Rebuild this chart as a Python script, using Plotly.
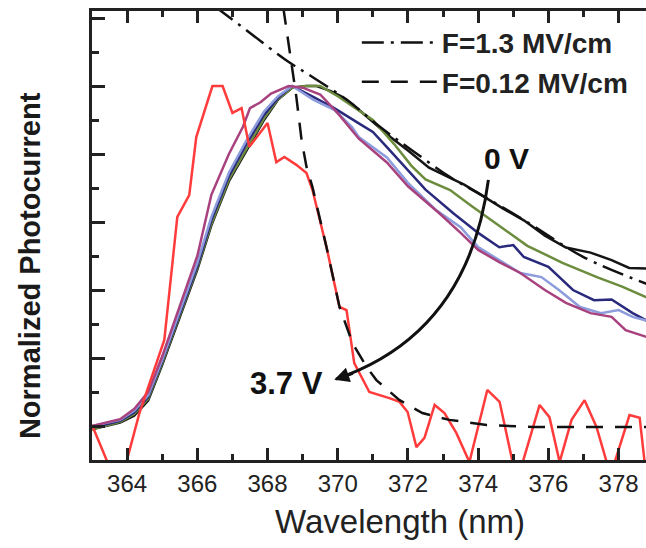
import plotly.graph_objects as go

# ---------------- data ----------------
wl_0v = [363.0, 363.4, 363.8, 364.2, 364.6, 365.0, 365.5, 366.0, 366.4, 366.9, 367.4, 367.9, 368.3, 368.7,
         369.1, 369.4, 369.8, 370.1, 370.6, 371.0, 371.5, 372.0, 372.6, 373.2, 373.6, 374.0, 374.7, 375.3,
         375.9, 376.5, 377.2, 377.8, 378.3, 378.8]
pc_0v = [-0.01, 0.0, 0.01, 0.03, 0.075, 0.18, 0.32, 0.46, 0.59, 0.72, 0.81, 0.9, 0.96, 0.995,
         1.0, 1.0, 0.985, 0.97, 0.93, 0.895, 0.85, 0.81, 0.76, 0.73, 0.71, 0.685, 0.64, 0.605,
         0.56, 0.525, 0.51, 0.488, 0.465, 0.463]

wl_green = [363.0, 363.4, 363.8, 364.2, 364.6, 365.0, 365.5, 366.0, 366.4, 366.9, 367.4, 367.9, 368.3, 368.7,
            369.1, 369.5, 370.0, 370.5, 371.0, 371.6, 372.1, 372.5, 373.2, 373.8, 374.6, 375.4, 376.4,
            377.4, 378.1, 378.8]
pc_green = [-0.01, 0.0, 0.012, 0.035, 0.08, 0.185, 0.325, 0.465, 0.595, 0.725, 0.815, 0.905, 0.962, 0.995,
            1.0, 1.0, 0.97, 0.935, 0.9, 0.83, 0.765, 0.725, 0.694, 0.648, 0.588, 0.53, 0.48,
            0.437, 0.41, 0.378]

wl_navy = [363.0, 363.4, 363.8, 364.2, 364.6, 365.0, 365.5, 366.0, 366.4, 366.9, 367.4, 367.9, 368.3, 368.7,
           369.3, 369.9, 370.6, 371.0, 371.4, 372.0, 372.5, 373.3, 374.0, 374.6, 375.0, 375.3, 376.0,
           376.7, 377.3, 377.8, 378.4, 378.8]
pc_navy = [-0.005, 0.005, 0.015, 0.04, 0.085, 0.19, 0.33, 0.47, 0.605, 0.735, 0.83, 0.915, 0.965, 1.0,
           0.968, 0.935, 0.89, 0.865, 0.82, 0.75, 0.695, 0.625, 0.568, 0.526, 0.532, 0.497, 0.468,
           0.4, 0.37, 0.372, 0.332, 0.31]

wl_lblue = [363.0, 363.4, 363.8, 364.2, 364.6, 365.0, 365.5, 366.0, 366.4, 366.9, 367.4, 367.9, 368.3, 368.7,
            369.3, 369.9, 370.4, 370.6, 371.4, 372.0, 372.8, 373.5, 374.0, 374.6, 375.2, 375.8, 376.3,
            376.9, 377.5, 378.0, 378.4, 378.8]
pc_lblue = [0.0, 0.008, 0.018, 0.045, 0.09, 0.195, 0.34, 0.48, 0.615, 0.745, 0.84, 0.925, 0.97, 1.0,
            0.96, 0.93, 0.88, 0.85, 0.79, 0.715, 0.635, 0.585, 0.526, 0.488, 0.45, 0.438, 0.4,
            0.35, 0.332, 0.341, 0.321, 0.31]

wl_purple = [363.0, 363.4, 363.8, 364.2, 364.6, 365.0, 365.5, 366.0, 366.4, 366.9, 367.3, 367.5, 367.8, 368.1,
             368.6, 369.0, 369.5, 370.0, 370.6, 371.4, 372.0, 372.9, 373.5, 374.0, 374.6, 375.2, 375.9,
             376.5, 377.2, 377.8, 378.2, 378.8]
pc_purple = [0.0, 0.01, 0.02, 0.05, 0.1, 0.205, 0.355, 0.5, 0.68, 0.8, 0.88, 0.935, 0.952, 0.978,
             1.0, 0.995, 0.975, 0.92, 0.845, 0.775, 0.705, 0.625, 0.568, 0.518, 0.482, 0.45, 0.4,
             0.362, 0.332, 0.321, 0.282, 0.262]

wl_37v = [363.0, 363.44, 363.98, 364.35, 365.06, 365.43, 365.77, 365.97, 366.43, 366.72, 367.0, 367.26,
          367.48, 368.0, 368.25, 368.48, 368.82, 369.11, 369.28, 369.68, 370.05, 370.25, 370.47, 370.9,
          371.47, 371.76, 371.99, 372.24, 372.47, 372.76, 373.04, 373.38, 373.75, 374.26, 374.61,
          374.98, 375.27, 375.75, 376.03, 376.32, 376.66, 377.03, 377.37, 377.66, 377.89, 378.31,
          378.6, 378.74]
pc_37v = [0.003, -0.106, -0.106, 0.038, 0.253, 0.615, 0.679, 0.85, 1.0, 1.0, 0.921, 0.935,
          0.821, 0.891, 0.776, 0.791, 0.768, 0.744, 0.694, 0.526, 0.35, 0.341, 0.185, 0.1,
          0.082, 0.071, 0.041, -0.062, -0.035, 0.062, 0.038, -0.021, -0.106, 0.106, 0.071,
          -0.106, -0.106, 0.062, 0.026, -0.106, 0.018, 0.076, -0.003, -0.106, -0.106, 0.032,
          0.024, -0.106]

wl_fit_high = [366.5, 367.5, 368.5, 369.3, 370.25, 371.2, 372.1, 373.2, 374.0, 375.3, 377.0, 378.8]
pc_fit_high = [1.234, 1.156, 1.078, 1.025, 0.96, 0.88, 0.812, 0.732, 0.685, 0.606, 0.497, 0.418]

wl_fit_low = [368.45, 368.57, 368.68, 368.82, 368.97, 369.11, 369.28, 369.68, 370.05, 370.42, 370.82,
              371.1, 371.76, 372.41, 373.18, 374.24, 375.55, 378.8]
pc_fit_low = [1.23, 1.144, 1.056, 0.968, 0.841, 0.762, 0.703, 0.526, 0.35, 0.244, 0.174,
              0.135, 0.076, 0.038, 0.018, 0.003, -0.003, -0.003]

x_ticks = [364, 366, 368, 370, 372, 374, 376, 378]
y_ticks = [0.0, 0.2, 0.4, 0.6, 0.8, 1.0, 1.2]

# ---------------- figure ----------------
FONT = "Liberation Sans, Arial, sans-serif"
fig = go.Figure()

curves = [
    (wl_0v, pc_0v, "#151515"),
    (wl_green, pc_green, "#6c8c3e"),
    (wl_navy, pc_navy, "#2a2a7c"),
    (wl_lblue, pc_lblue, "#8c9cdc"),
    (wl_purple, pc_purple, "#a8427e"),
    (wl_37v, pc_37v, "#ff3b3b"),
]
for xs, ys, col in curves:
    fig.add_trace(go.Scatter(x=xs, y=ys, mode="lines", showlegend=False,
                             line=dict(color=col, width=2.5)))

fig.add_trace(go.Scatter(x=wl_fit_high, y=pc_fit_high, mode="lines", name="F=1.3 MV/cm",
                         line=dict(color="#111111", width=2.5, dash="22px,7px,3px,7px", shape="spline")))
fig.add_trace(go.Scatter(x=wl_fit_low, y=pc_fit_low, mode="lines", name="F=0.12 MV/cm",
                         line=dict(color="#111111", width=2.5, dash="17px,12px")))

# curved arrow 0 V -> 3.7 V
fig.add_shape(type="path", xref="x", yref="y",
              path="M 374.29 0.724 Q 373.72 0.271 369.95 0.138",
              line=dict(color="#111111", width=3))
fig.add_annotation(x=369.9, y=0.136, ax=20, ay=-7, showarrow=True, text="",
                   arrowhead=2, arrowsize=1, arrowwidth=3, arrowcolor="#111111")
fig.add_annotation(x=374.81, y=0.788, text="<b>0 V</b>", showarrow=False,
                   font=dict(family=FONT, size=30, color="#111111"))
fig.add_annotation(x=368.54, y=0.126, text="<b>3.7 V</b>", showarrow=False,
                   font=dict(family=FONT, size=31, color="#111111"))

# axis titles as annotations
fig.add_annotation(xref="paper", yref="paper", x=-0.112, y=0.434, xanchor="center", yanchor="middle",
                   text="<b>Normalized Photocurrent</b>",
                   textangle=-90, showarrow=False, font=dict(family=FONT, size=29, color="#1a1a1a"))
fig.add_annotation(xref="paper", yref="paper", x=0.556, y=-0.138, xanchor="center", yanchor="middle",
                   text="Wavelength (nm)",
                   showarrow=False, font=dict(family=FONT, size=33, color="#222222"))

fig.update_xaxes(range=[363.0, 378.78], tickvals=x_ticks, ticktext=[str(v) for v in x_ticks],
                 ticks="inside", ticklen=12, tickwidth=3, tickcolor="#222222",
                 minor=dict(dtick=1, ticks="inside", ticklen=6, tickwidth=3, tickcolor="#222222"),
                 showline=True, linewidth=3, linecolor="#222222", mirror="ticks",
                 showgrid=False, zeroline=False,
                 tickfont=dict(family=FONT, size=24, color="#222222"))
fig.update_yaxes(range=[-0.1, 1.2206], tickvals=y_ticks, showticklabels=False,
                 ticks="inside", ticklen=13, tickwidth=3, tickcolor="#222222",
                 minor=dict(dtick=0.1, tick0=0, ticks="inside", ticklen=7, tickwidth=3, tickcolor="#222222"),
                 showline=True, linewidth=3, linecolor="#222222",
                 showgrid=False, zeroline=False)

fig.update_layout(
    width=646, height=548,
    margin=dict(l=92, r=0, t=11, b=88),
    plot_bgcolor="white", paper_bgcolor="white",
    font=dict(family=FONT, color="#222222"),
    legend=dict(x=0.478, y=0.985, xanchor="left", yanchor="top", bgcolor="rgba(0,0,0,0)",
                itemwidth=75, font=dict(family=FONT, size=28, color="#222222", weight="bold"),
                tracegroupgap=0),
)

fig.write_html("out.html", config={"displayModeBar": False},
               post_script="document.body.style.margin='0';document.body.style.overflow='hidden';")
